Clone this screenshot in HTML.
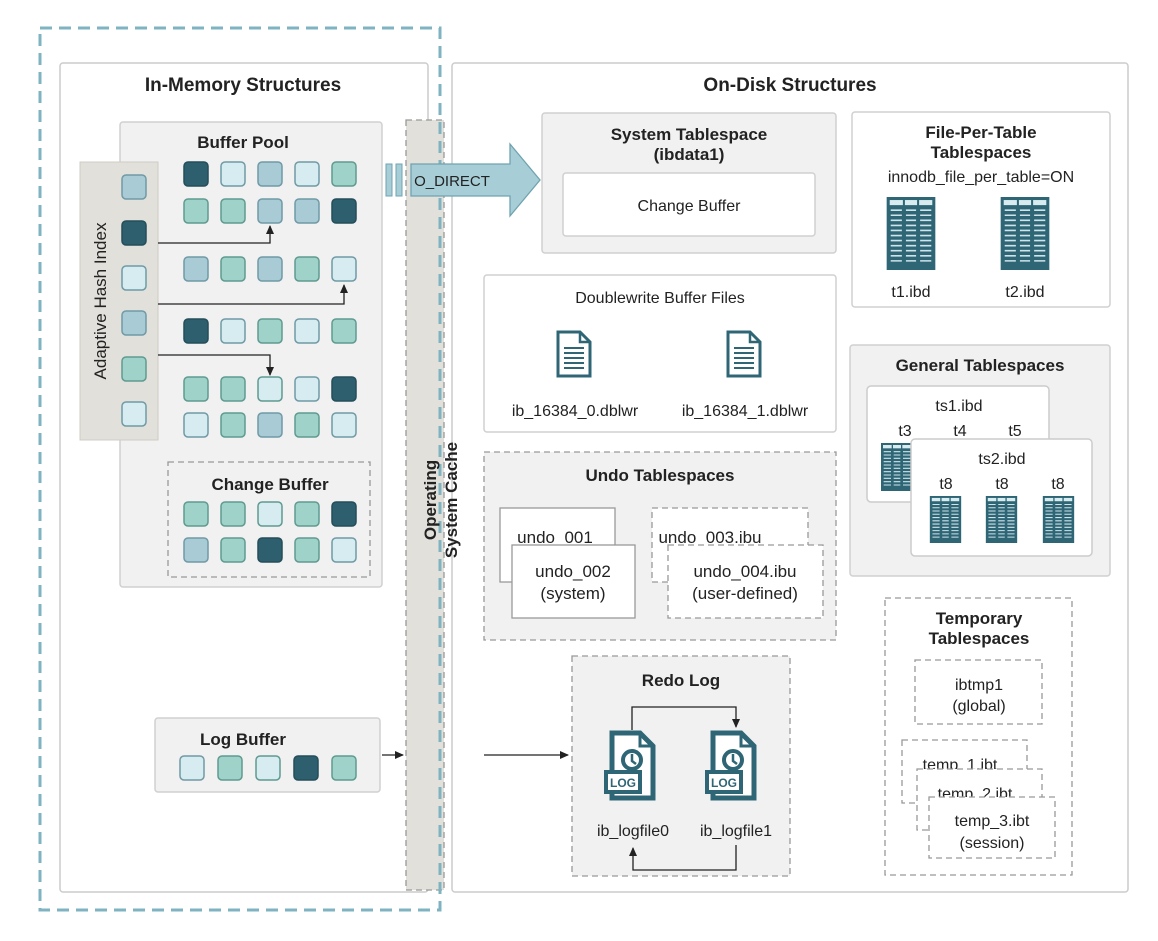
<!DOCTYPE html>
<html><head><meta charset="utf-8"><style>
html,body{margin:0;padding:0;background:#fff}
svg text{font-family:"Liberation Sans",sans-serif;fill:#222}
.t{font-size:17px;font-weight:bold;text-anchor:middle}
.n{font-size:16px;text-anchor:middle}
</style></head><body>
<svg width="1158" height="936" viewBox="0 0 1158 936" xmlns="http://www.w3.org/2000/svg">
<defs>
<symbol id="tbl" viewBox="0 0 48 72">
<rect x="0" y="0" width="48" height="72" fill="#2f6676"/>
<g fill="#d8ecf0">
<rect x="3" y="3" width="13" height="5"/><rect x="18" y="3" width="12" height="5"/><rect x="32" y="3" width="13" height="5"/>
</g>
<g stroke="#cfe4ea" stroke-width="1.6">
<path d="M4 13H15M4 18H15M4 23H15M4 28H15M4 33H15M4 38H15M4 43H15M4 48H15M4 53H15M4 58H15M4 63H15"/>
<path d="M19 13H29M19 18H29M19 23H29M19 28H29M19 33H29M19 38H29M19 43H29M19 48H29M19 53H29M19 58H29M19 63H29"/>
<path d="M33 13H44M33 18H44M33 23H44M33 28H44M33 33H44M33 38H44M33 43H44M33 48H44M33 53H44M33 58H44M33 63H44"/>
</g>
</symbol>
<symbol id="doc" viewBox="0 0 36 48">
<path d="M2 2H24L34 12V46H2Z" fill="#fff" stroke="#2f6676" stroke-width="3"/>
<path d="M24 2V12H34" fill="none" stroke="#2f6676" stroke-width="2.5"/>
<path d="M8 18H28M8 23H28M8 28H28M8 33H28M8 38H28" stroke="#2f6676" stroke-width="2"/>
</symbol>
<symbol id="log" viewBox="0 0 52 72">
<path d="M8 3H36L49 16V68H8Z" fill="#fff" stroke="#2f6676" stroke-width="5"/>
<path d="M36 3V16H49" fill="none" stroke="#2f6676" stroke-width="3"/>
<circle cx="28" cy="30" r="9" fill="none" stroke="#2f6676" stroke-width="4"/>
<path d="M28 24V31L32 34" fill="none" stroke="#2f6676" stroke-width="2.5"/>
<rect x="2" y="42" width="34" height="20" fill="#fff" stroke="#2f6676" stroke-width="4"/>
<text x="19" y="57" font-size="12" font-weight="bold" text-anchor="middle" style="fill:#2f6676">LOG</text>
</symbol>
<marker id="ar" markerWidth="10" markerHeight="10" refX="8" refY="5" orient="auto" markerUnits="userSpaceOnUse"><path d="M0 1L9 5L0 9Z" fill="#222"/></marker>
</defs>

<rect x="60" y="63" width="368" height="829" rx="3" fill="#fff" stroke="#ccc" stroke-width="1.5"/>
<rect x="452" y="63" width="676" height="829" rx="3" fill="#fff" stroke="#ccc" stroke-width="1.5"/>
<text class="t" x="243" y="91" style="font-size:19px">In-Memory Structures</text>
<text class="t" x="790" y="91" style="font-size:19px">On-Disk Structures</text>

<rect x="120" y="122" width="262" height="465" rx="3" fill="#f1f1f1" stroke="#d0d0d0" stroke-width="1.5"/>
<text class="t" x="243" y="148">Buffer Pool</text>
<rect x="80" y="162" width="78" height="278" fill="#e2e0da" stroke="#d0ccc4"/>
<text class="n" transform="translate(106,301) rotate(-90)" style="font-size:17px">Adaptive Hash Index</text>

<g stroke-width="1.5">
<rect x="122" y="175" width="24" height="24" rx="4" fill="#a9cbd6" stroke="#6f9aa6"/>
<rect x="122" y="221" width="24" height="24" rx="4" fill="#2d5f6e" stroke="#244e5a"/>
<rect x="122" y="266" width="24" height="24" rx="4" fill="#d6ecf0" stroke="#6f9aa6"/>
<rect x="122" y="311" width="24" height="24" rx="4" fill="#a9cbd6" stroke="#6f9aa6"/>
<rect x="122" y="357" width="24" height="24" rx="4" fill="#9fd3c9" stroke="#5f9a90"/>
<rect x="122" y="402" width="24" height="24" rx="4" fill="#d6ecf0" stroke="#6f9aa6"/>
</g>

<g stroke-width="1.5">
<rect x="184" y="162" width="24" height="24" rx="4" fill="#2d5f6e" stroke="#244e5a"/>
<rect x="221" y="162" width="24" height="24" rx="4" fill="#d6ecf0" stroke="#6f9aa6"/>
<rect x="258" y="162" width="24" height="24" rx="4" fill="#a9cbd6" stroke="#6f9aa6"/>
<rect x="295" y="162" width="24" height="24" rx="4" fill="#d6ecf0" stroke="#6f9aa6"/>
<rect x="332" y="162" width="24" height="24" rx="4" fill="#9fd3c9" stroke="#5f9a90"/>
<rect x="184" y="199" width="24" height="24" rx="4" fill="#9fd3c9" stroke="#5f9a90"/>
<rect x="221" y="199" width="24" height="24" rx="4" fill="#9fd3c9" stroke="#5f9a90"/>
<rect x="258" y="199" width="24" height="24" rx="4" fill="#a9cbd6" stroke="#6f9aa6"/>
<rect x="295" y="199" width="24" height="24" rx="4" fill="#a9cbd6" stroke="#6f9aa6"/>
<rect x="332" y="199" width="24" height="24" rx="4" fill="#2d5f6e" stroke="#244e5a"/>
<rect x="184" y="257" width="24" height="24" rx="4" fill="#a9cbd6" stroke="#6f9aa6"/>
<rect x="221" y="257" width="24" height="24" rx="4" fill="#9fd3c9" stroke="#5f9a90"/>
<rect x="258" y="257" width="24" height="24" rx="4" fill="#a9cbd6" stroke="#6f9aa6"/>
<rect x="295" y="257" width="24" height="24" rx="4" fill="#9fd3c9" stroke="#5f9a90"/>
<rect x="332" y="257" width="24" height="24" rx="4" fill="#d6ecf0" stroke="#6f9aa6"/>
<rect x="184" y="319" width="24" height="24" rx="4" fill="#2d5f6e" stroke="#244e5a"/>
<rect x="221" y="319" width="24" height="24" rx="4" fill="#d6ecf0" stroke="#6f9aa6"/>
<rect x="258" y="319" width="24" height="24" rx="4" fill="#9fd3c9" stroke="#5f9a90"/>
<rect x="295" y="319" width="24" height="24" rx="4" fill="#d6ecf0" stroke="#6f9aa6"/>
<rect x="332" y="319" width="24" height="24" rx="4" fill="#9fd3c9" stroke="#5f9a90"/>
<rect x="184" y="377" width="24" height="24" rx="4" fill="#9fd3c9" stroke="#5f9a90"/>
<rect x="221" y="377" width="24" height="24" rx="4" fill="#9fd3c9" stroke="#5f9a90"/>
<rect x="258" y="377" width="24" height="24" rx="4" fill="#d6ecf0" stroke="#5f9a90"/>
<rect x="295" y="377" width="24" height="24" rx="4" fill="#d6ecf0" stroke="#6f9aa6"/>
<rect x="332" y="377" width="24" height="24" rx="4" fill="#2d5f6e" stroke="#244e5a"/>
<rect x="184" y="413" width="24" height="24" rx="4" fill="#d6ecf0" stroke="#6f9aa6"/>
<rect x="221" y="413" width="24" height="24" rx="4" fill="#9fd3c9" stroke="#5f9a90"/>
<rect x="258" y="413" width="24" height="24" rx="4" fill="#a9cbd6" stroke="#6f9aa6"/>
<rect x="295" y="413" width="24" height="24" rx="4" fill="#9fd3c9" stroke="#5f9a90"/>
<rect x="332" y="413" width="24" height="24" rx="4" fill="#d6ecf0" stroke="#6f9aa6"/>
</g>
<g fill="none" stroke="#222" stroke-width="1.3">
<path d="M158 243H270V226" marker-end="url(#ar)"/>
<path d="M158 304H344V285" marker-end="url(#ar)"/>
<path d="M158 355H270V375" marker-end="url(#ar)"/>
</g>

<rect x="168" y="462" width="202" height="115" fill="#f1f1f1" stroke="#999" stroke-dasharray="6,4" stroke-width="1.3"/>
<text class="t" x="270" y="490">Change Buffer</text>
<g stroke-width="1.5">
<rect x="184" y="502" width="24" height="24" rx="4" fill="#9fd3c9" stroke="#5f9a90"/>
<rect x="221" y="502" width="24" height="24" rx="4" fill="#9fd3c9" stroke="#5f9a90"/>
<rect x="258" y="502" width="24" height="24" rx="4" fill="#d6ecf0" stroke="#5f9a90"/>
<rect x="295" y="502" width="24" height="24" rx="4" fill="#9fd3c9" stroke="#5f9a90"/>
<rect x="332" y="502" width="24" height="24" rx="4" fill="#2d5f6e" stroke="#244e5a"/>
<rect x="184" y="538" width="24" height="24" rx="4" fill="#a9cbd6" stroke="#6f9aa6"/>
<rect x="221" y="538" width="24" height="24" rx="4" fill="#9fd3c9" stroke="#5f9a90"/>
<rect x="258" y="538" width="24" height="24" rx="4" fill="#2d5f6e" stroke="#244e5a"/>
<rect x="295" y="538" width="24" height="24" rx="4" fill="#9fd3c9" stroke="#5f9a90"/>
<rect x="332" y="538" width="24" height="24" rx="4" fill="#d6ecf0" stroke="#6f9aa6"/>
</g>

<rect x="155" y="718" width="225" height="74" rx="3" fill="#f1f1f1" stroke="#d0d0d0" stroke-width="1.5"/>
<text class="t" x="243" y="745">Log Buffer</text>
<g stroke-width="1.5">
<rect x="180" y="756" width="24" height="24" rx="4" fill="#d6ecf0" stroke="#6f9aa6"/>
<rect x="218" y="756" width="24" height="24" rx="4" fill="#9fd3c9" stroke="#5f9a90"/>
<rect x="256" y="756" width="24" height="24" rx="4" fill="#d6ecf0" stroke="#5f9a90"/>
<rect x="294" y="756" width="24" height="24" rx="4" fill="#2d5f6e" stroke="#244e5a"/>
<rect x="332" y="756" width="24" height="24" rx="4" fill="#9fd3c9" stroke="#5f9a90"/>
</g>
<path d="M382 755H403" stroke="#222" stroke-width="1.3" marker-end="url(#ar)"/>

<rect x="406" y="120" width="38" height="770" fill="#e2e0da" stroke="#999" stroke-dasharray="6,4" stroke-width="1.3"/>
<rect x="40" y="28" width="400" height="882" fill="none" stroke="#7fb3c1" stroke-width="3" stroke-dasharray="12,7"/>
<text class="t" transform="translate(441,500) rotate(-90)"><tspan x="0" dy="-5">Operating</tspan><tspan x="0" dy="21">System Cache</tspan></text>

<rect x="386" y="164" width="6" height="32" fill="#a7cdd6" stroke="#6fa3b0"/>
<rect x="396" y="164" width="6" height="32" fill="#a7cdd6" stroke="#6fa3b0"/>
<path d="M411 164H510V144L540 180L510 216V196H411Z" fill="#a7cdd6" stroke="#6fa3b0" stroke-width="1.3"/>
<text class="n" x="452" y="186" style="font-size:15px">O_DIRECT</text>

<rect x="542" y="113" width="294" height="140" rx="3" fill="#f1f1f1" stroke="#d0d0d0" stroke-width="1.5"/>
<text class="t" x="689" y="140">System Tablespace</text>
<text class="t" x="689" y="160">(ibdata1)</text>
<rect x="563" y="173" width="252" height="63" rx="3" fill="#fff" stroke="#d0d0d0" stroke-width="1.5"/>
<text class="n" x="689" y="211">Change Buffer</text>

<rect x="852" y="112" width="258" height="195" rx="3" fill="#fff" stroke="#d0d0d0" stroke-width="1.5"/>
<text class="t" x="981" y="138">File-Per-Table</text>
<text class="t" x="981" y="158">Tablespaces</text>
<text class="n" x="981" y="182">innodb_file_per_table=ON</text>
<use href="#tbl" x="886" y="197" width="50" height="73"/>
<use href="#tbl" x="1000" y="197" width="50" height="73"/>
<text class="n" x="911" y="297">t1.ibd</text>
<text class="n" x="1025" y="297">t2.ibd</text>

<rect x="484" y="275" width="352" height="157" rx="3" fill="#fff" stroke="#d0d0d0" stroke-width="1.5"/>
<text class="n" x="660" y="303">Doublewrite Buffer Files</text>
<use href="#doc" x="556" y="330" width="36" height="48"/>
<use href="#doc" x="726" y="330" width="36" height="48"/>
<text class="n" x="575" y="416">ib_16384_0.dblwr</text>
<text class="n" x="745" y="416">ib_16384_1.dblwr</text>

<rect x="850" y="345" width="260" height="231" rx="3" fill="#f1f1f1" stroke="#d0d0d0" stroke-width="1.5"/>
<text class="t" x="980" y="371">General Tablespaces</text>
<rect x="867" y="386" width="182" height="116" rx="4" fill="#fff" stroke="#ccc" stroke-width="1.5"/>
<text class="n" x="959" y="411">ts1.ibd</text>
<text class="n" x="905" y="436">t3</text><text class="n" x="960" y="436">t4</text><text class="n" x="1015" y="436">t5</text>
<use href="#tbl" x="880" y="443" width="34" height="48"/>
<rect x="911" y="439" width="181" height="117" rx="4" fill="#fff" stroke="#ccc" stroke-width="1.5"/>
<text class="n" x="1002" y="464">ts2.ibd</text>
<text class="n" x="946" y="489">t8</text><text class="n" x="1002" y="489">t8</text><text class="n" x="1058" y="489">t8</text>
<use href="#tbl" x="922" y="496" width="47" height="47"/>
<use href="#tbl" x="978" y="496" width="47" height="47"/>
<use href="#tbl" x="1035" y="496" width="47" height="47"/>

<rect x="484" y="452" width="352" height="188" fill="#f1f1f1" stroke="#999" stroke-dasharray="6,4" stroke-width="1.3"/>
<text class="t" x="660" y="481">Undo Tablespaces</text>
<rect x="500" y="508" width="115" height="74" fill="#fff" stroke="#999" stroke-width="1.3"/>
<text class="n" x="555" y="543" style="font-size:17px">undo_001</text>
<rect x="512" y="545" width="123" height="73" fill="#fff" stroke="#999" stroke-width="1.3"/>
<text class="n" x="573" y="577" style="font-size:17px">undo_002</text>
<text class="n" x="573" y="599" style="font-size:17px">(system)</text>
<rect x="652" y="508" width="156" height="74" fill="#fff" stroke="#999" stroke-dasharray="6,4" stroke-width="1.3"/>
<text class="n" x="710" y="543" style="font-size:17px">undo_003.ibu</text>
<rect x="668" y="545" width="155" height="73" fill="#fff" stroke="#999" stroke-dasharray="6,4" stroke-width="1.3"/>
<text class="n" x="745" y="577" style="font-size:17px">undo_004.ibu</text>
<text class="n" x="745" y="599" style="font-size:17px">(user-defined)</text>

<rect x="885" y="598" width="187" height="277" fill="#fff" stroke="#999" stroke-dasharray="6,4" stroke-width="1.3"/>
<text class="t" x="979" y="624">Temporary</text>
<text class="t" x="979" y="644">Tablespaces</text>
<rect x="915" y="660" width="127" height="64" fill="#fff" stroke="#999" stroke-dasharray="6,4" stroke-width="1.3"/>
<text class="n" x="979" y="690">ibtmp1</text>
<text class="n" x="979" y="711">(global)</text>
<rect x="902" y="740" width="125" height="63" fill="#fff" stroke="#999" stroke-dasharray="6,4" stroke-width="1.3"/>
<text class="n" x="960" y="770">temp_1.ibt</text>
<rect x="917" y="769" width="125" height="61" fill="#fff" stroke="#999" stroke-dasharray="6,4" stroke-width="1.3"/>
<text class="n" x="975" y="799">temp_2.ibt</text>
<rect x="929" y="797" width="126" height="61" fill="#fff" stroke="#999" stroke-dasharray="6,4" stroke-width="1.3"/>
<text class="n" x="992" y="826">temp_3.ibt</text>
<text class="n" x="992" y="848">(session)</text>

<path d="M484 755H568" stroke="#222" stroke-width="1.3" marker-end="url(#ar)"/>
<rect x="572" y="656" width="218" height="220" fill="#f1f1f1" stroke="#999" stroke-dasharray="6,4" stroke-width="1.3"/>
<text class="t" x="681" y="686">Redo Log</text>
<use href="#log" x="604" y="730" width="52" height="72"/>
<use href="#log" x="705" y="730" width="52" height="72"/>
<text class="n" x="633" y="836">ib_logfile0</text>
<text class="n" x="736" y="836">ib_logfile1</text>
<g fill="none" stroke="#222" stroke-width="1.3">
<path d="M632 730V707H736V727" marker-end="url(#ar)"/>
<path d="M736 845V870H633V848" marker-end="url(#ar)"/>
</g>
</svg>
</body></html>
